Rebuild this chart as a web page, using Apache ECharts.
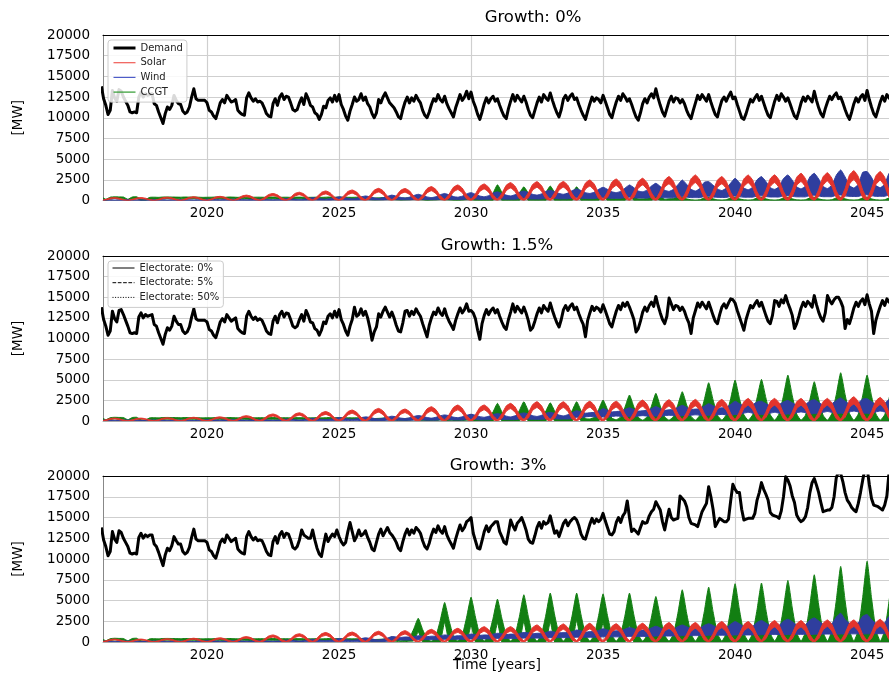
<!DOCTYPE html>
<html>
<head>
<meta charset="utf-8">
<script src="https://cdn.jsdelivr.net/npm/echarts@6/dist/echarts.min.js"></script>
<style>html,body{margin:0;padding:0;background:#fff;}#c{width:889px;height:673px;}</style>
</head>
<body>
<div id="c"></div>
<script>
// ---------------- DATA ----------------
const startYear = 2016;
const xTickYears = [2020, 2025, 2030, 2035, 2040, 2045];
const yTicks = [0, 2500, 5000, 7500, 10000, 12500, 15000, 17500, 20000];
const panelTitles = ['Growth: 0%', 'Growth: 1.5%', 'Growth: 3%'];
const techNames = ['Demand', 'Solar', 'Wind', 'CCGT'];
const electorateNames = ['Electorate: 0%', 'Electorate: 5%', 'Electorate: 50%'];

// Demand, monthly (MW), Jan 2016 .. Jan 2046
const demandG0 = [
13800,12300,11500,10400,10900,13300,12400,12000,13400,13200,12500,12000,
11500,10700,10600,10700,10600,12500,13100,12500,12900,12700,12800,12900,
11700,11500,10700,10000,9300,10500,11300,11000,11500,12700,12100,11700,
11600,10800,10500,10700,11300,12500,13500,12300,12100,12100,12100,12100,
11800,10900,10700,10200,9900,10800,11800,12200,11800,12700,12300,11900,
12000,12200,10900,10600,10400,10300,12400,13000,12400,12000,12300,11900,
12000,11800,11200,10500,10200,10100,11700,12300,11500,12500,12900,12200,
12600,12500,11800,11000,10800,11000,11800,12400,11600,12900,12300,11500,
11300,10600,10400,9800,10400,11400,11200,12100,12400,11900,12700,12000,
12800,11600,11000,10200,9700,10800,11600,12500,12000,12200,12900,12100,
12500,11700,11300,10500,10000,10600,12200,11800,12500,13000,12400,11800,
11500,11200,10700,10100,9900,11000,11900,12500,11800,12400,12000,12700,
12200,11800,10900,10300,10000,10700,11600,12300,12000,12800,12200,11900,
12600,11700,11100,10600,10100,11200,12000,12800,12100,12500,13200,12300,
13100,12000,11300,10400,9800,10700,11700,12400,11800,12300,12600,12000,
12300,11500,10800,10200,9900,11100,12000,12800,12000,12700,12300,11900,
12600,11900,11000,10300,10000,10900,11800,12500,11900,12800,12400,12100,
13000,12100,11300,10600,10100,11000,12300,12700,12100,12600,12900,12200,
12400,11600,10900,10300,9800,10800,11700,12500,12000,12400,12200,11800,
12700,12000,11200,10400,10000,11000,11900,12600,12100,12900,12500,12000,
12300,11600,10800,10100,9700,10600,11700,12300,11800,12500,12900,12400,
13500,12400,11500,10700,10200,11100,12000,12600,11900,12400,12300,11800,
12200,11700,10900,10300,9900,10900,11800,12700,12200,12800,12400,12000,
12800,11900,11100,10400,10100,11200,12100,12500,12000,12600,13100,12300,
12500,11600,10800,10000,9800,10500,11400,12200,11900,12400,12800,12100,
12600,11800,11000,10300,10000,11000,12000,12700,12100,12900,12500,12000,
12400,11700,10900,10200,9900,10800,11800,12500,12000,12600,12300,11900,
13200,12100,11200,10500,10100,11100,11900,12600,12200,12700,13000,12300,
12500,11800,11000,10300,9800,10700,11700,12400,11900,12500,12800,12100,
13300,12200,11300,10500,10100,11000,11900,12600,12000,12800,12400,12100,
12500];

const demandG15 = [
13800,12300,11500,10400,10900,13300,12400,12000,13400,13500,12900,12200,
11500,10700,10600,10700,10600,12600,13100,12500,12900,12700,12800,12900,
11700,11500,10700,10000,9300,10500,11300,11000,11500,12700,12100,11700,
11700,10900,10600,10800,11400,12600,13600,12400,12200,12200,12200,12200,
12000,11100,10900,10400,10100,11000,12000,12400,12000,12900,12500,12100,
12300,12500,11200,10900,10700,10600,12700,13300,12700,12300,12600,12200,
12400,12200,11600,10900,10600,10500,12100,12700,11900,12900,13300,12600,
13100,13000,12300,11500,11300,11500,12300,12900,12100,13400,12800,12000,
11900,11200,11000,10400,11000,12000,11800,12700,13000,12500,13300,12600,
13500,12300,11700,10900,10400,11500,12300,13800,12700,12900,13600,12800,
13300,12500,11300,9800,10800,11400,13000,12600,13300,13800,13200,12600,
13200,12500,11600,10900,10800,11900,13300,13400,12700,13300,12900,13600,
13100,12700,11800,11000,10200,11600,12500,13200,12900,13700,13100,12800,
13600,12700,12100,11600,11100,12200,13000,13700,13100,13500,14200,13300,
13400,13100,12400,11000,9900,11800,12800,13500,12900,13400,13700,13100,
13500,12700,12000,11400,11100,12300,13200,14200,13200,13900,13500,13100,
13800,13100,12200,11000,11300,12100,13000,13700,13100,14000,13600,13300,
14300,13400,12600,11900,11400,12300,13500,14000,13400,13900,14200,13500,
13800,13000,12300,11700,10200,12200,13100,13900,13400,13800,13600,13200,
14100,13400,12600,11800,11400,12400,13300,14000,13500,14300,13900,14400,
13800,13100,12300,10800,11200,12100,13200,13800,13300,14000,14400,13900,
15100,14000,13100,12300,11800,12700,14900,14200,13500,14000,13900,13400,
13800,13300,12500,11900,10600,12500,13400,14300,13800,14400,14000,13600,
14400,13600,12800,12100,11800,12900,13800,14200,13700,14300,14800,14700,
14300,13400,12600,11800,11000,12300,13200,14000,13700,14200,14600,13900,
14400,13600,12800,12100,11800,12800,14600,14500,13900,14700,14300,15200,
14300,13600,12800,11200,11800,12700,13700,14400,13900,14500,14200,13800,
15200,14100,13200,12500,12100,13100,15200,14600,14200,14700,15000,15000,
14500,13800,11200,12300,11800,12700,13700,14400,13900,14500,14800,14100,
15300,14200,13300,10600,12200,13100,13900,14600,14000,14800,14400,15000,
14500];

const demandG3 = [
13800,12300,11500,10400,10900,13300,12400,12000,13400,13200,12500,12000,
11500,10700,10600,10700,10600,12600,13100,12500,12900,12700,12900,12900,
11800,11500,10800,10000,9200,10500,11300,11000,11600,12700,12200,11800,
11800,10900,10600,10800,11400,12600,13600,12400,12200,12200,12200,12200,
12000,11100,10900,10400,10100,11000,12000,12400,12000,12900,12500,12100,
12300,12500,11200,10900,10700,10600,12700,13300,12700,12300,12600,12200,
12300,12200,11600,10900,10500,10400,12100,12700,11900,12900,13300,12600,
13100,13000,12300,11400,11200,11500,12300,13500,12900,12700,12500,12500,
13500,12300,11300,10600,10300,11700,13000,12100,12600,13000,12700,13500,
12700,12100,11700,12000,13300,14400,13300,12200,12700,13500,12800,13000,
13400,12600,12000,11200,11000,12000,13000,13600,12800,13300,13800,13200,
12900,12500,12000,11300,11000,12100,13000,13600,12900,13500,13100,13800,
13500,13100,12200,11500,11200,11900,12900,13600,13200,14000,13400,13100,
13900,12900,12300,11800,11300,12400,13300,14100,13400,13800,14500,14700,
15000,13100,12200,11300,11200,12200,13300,14000,13300,13900,14200,14500,
14500,13300,12700,12000,11800,13200,14700,14000,13500,14300,14600,15000,
14300,13500,12400,12000,11900,12800,13800,14400,13700,14500,14200,14400,
15200,14100,13100,13400,12700,13500,14300,14700,14000,14500,14800,15000,
14700,14000,13000,12500,12400,13300,14200,14900,14300,14800,14500,14800,
15500,14600,13800,13000,12900,13300,14400,15000,14400,15200,15600,17000,
15000,13300,13600,13300,13000,13800,14500,14300,14400,15200,15700,16000,
16900,16400,15900,14500,13500,14800,16000,15000,14700,14800,14900,17600,
17300,17000,16300,15000,14300,14200,14100,13900,14800,15700,16200,16700,
18700,17500,16000,13900,14400,14900,14700,14500,14500,14800,17000,19000,
18400,18000,18000,16000,14700,14800,14900,14900,14900,15500,17100,18000,
19200,18400,17800,17100,15600,15300,15200,15100,14900,15800,17500,19900,
19500,18800,17600,16800,15300,14800,14500,14700,15100,16200,18000,19200,
19700,18900,18000,16800,15700,15800,15900,15900,16200,17500,19800,20500,
20300,19300,18000,17100,16700,16200,15900,15700,16700,18000,19500,20800,
21000,19000,17300,16500,16400,16300,16100,15900,16500,17600,20500,21000,
21000];

// Generation envelopes of the scenario runs, every two months (Jan,Mar,May,Jul,Sep,Nov), Jan 2016 .. Jan 2046
// ---- Growth 0% ----
const solarHiG0 = [
30,140,300,350,280,120, 30,140,300,350,280,120, 30,160,340,400,320,140, 40,180,380,450,360,160,
40,200,430,500,400,180, 50,260,550,650,520,230, 70,340,720,850,680,300, 80,400,850,1000,800,350,
90,460,980,1150,920,400, 100,510,1080,1270,1020,440, 120,590,1250,1470,1180,510, 110,570,1230,1450,1170,500,
130,670,1430,1680,1340,590, 150,750,1600,1880,1500,660, 160,800,1700,2000,1600,700, 170,860,1840,2160,1730,760,
180,910,1940,2280,1820,800, 190,930,1960,2300,1840,810, 200,990,2110,2480,1980,870, 210,1040,2210,2600,2080,910,
220,1080,2290,2690,2150,940, 230,1160,2460,2890,2310,1010, 250,1240,2630,3090,2470,1080, 230,1160,2460,2890,2310,1010,
240,1230,2610,3080,2460,1070, 250,1250,2640,3100,2480,1090, 260,1320,2800,3290,2630,1150, 270,1340,2860,3360,2690,1180,
290,1440,3070,3610,2890,1260, 280,1400,2980,3500,2800,1230,
280];
const solarLoG0 = [
0,50,190,250,170,35, 0,50,190,250,170,35, 0,60,220,280,200,40, 0,70,250,320,220,45,
0,80,280,350,250,50, 0,100,360,460,330,65, 0,130,470,600,430,85, 0,150,550,700,500,100,
0,170,630,800,580,120, 0,190,700,890,640,130, 0,220,810,1030,740,150, 0,210,800,1010,730,145,
0,250,920,1180,840,170, 0,280,1030,1320,940,190, 0,300,1100,1400,1000,200, 0,320,1190,1510,1080,220,
0,340,1250,1600,1140,230, 0,350,1260,1610,1150,235, 0,370,1360,1740,1240,250, 0,390,1430,1820,1300,260,
0,400,1480,1880,1350,270, 0,430,1590,2020,1450,290, 0,460,1700,2160,1550,310, 0,430,1590,2020,1450,290,
0,455,1690,2150,1540,305, 0,465,1710,2170,1560,315, 0,490,1810,2300,1650,330, 0,500,1850,2350,1680,340,
0,540,1990,2530,1810,360, 0,530,1930,2450,1750,350,
0];
const windHiG0 = [
120,100,80,60,80,110, 120,100,80,60,80,110, 120,100,80,60,80,110, 120,100,80,60,80,110,
160,140,110,90,110,150, 160,140,110,90,110,150, 160,140,110,90,110,150, 250,200,150,120,160,230,
350,280,200,160,220,320, 450,380,260,200,280,420, 550,450,320,250,340,500, 650,520,380,300,400,600,
750,600,430,350,450,700, 850,680,480,400,520,800, 950,760,540,450,580,900, 1050,840,650,550,700,1000,
1150,950,750,650,800,1100, 1250,1050,850,750,900,1200, 1400,1200,950,850,1000,1350, 1600,1350,1050,950,1100,1500,
1880,1550,1150,1050,1250,1750, 2080,1700,1250,1100,1350,1900, 2480,1950,1350,1150,1450,2200, 2280,1850,1400,1200,1500,2100,
2690,2150,1500,1300,1600,2500, 2890,2300,1550,1350,1650,2650, 3090,2450,1650,1400,1750,2850, 3290,2600,1700,1450,1850,3050,
3690,2850,1800,1500,1950,3400, 3500,2800,1800,1550,1950,3300,
3400];
const windLoG0 = [
0,0,0,0,0,0, 0,0,0,0,0,0, 0,0,0,0,0,0, 0,0,0,0,0,0,
0,0,0,0,0,0, 0,0,0,0,0,0, 0,0,0,0,0,0, 20,20,10,10,10,20,
50,40,30,30,30,50, 80,60,50,50,50,80, 100,80,60,60,60,100, 120,100,80,80,80,120,
150,120,100,100,100,150, 180,150,120,120,120,180, 200,170,140,140,140,200, 230,190,160,160,160,230,
260,210,180,180,180,260, 290,240,200,200,200,290, 320,270,230,230,230,320, 360,300,260,260,260,360,
400,330,290,290,290,400, 440,370,320,320,320,440, 480,400,350,350,350,480, 500,420,370,370,370,500,
540,450,400,400,400,540, 570,480,420,420,420,570, 600,500,440,440,440,600, 630,530,460,460,460,630,
660,560,480,480,480,660, 690,580,500,500,500,690,
700];
const ccgtHiG0 = [
420,150,400,450,430,420, 150,420,450,150,120,380, 400,380,420,430,420,410, 400,420,410,420,400,380,
390,400,420,410,380,420, 410,380,420,400,390,400, 400,390,410,420,400,390, 400,380,400,410,390,380,
390,400,380,400,420,400, 410,380,390,380,400,390, 400,350,300,320,350,400, 420,330,280,300,330,420,
420,320,250,280,300,400, 450,300,220,250,280,450, 700,500,200,300,350,900, 1900,1000,250,250,300,900,
1650,900,250,250,300,950, 1750,950,250,250,300,900, 1650,900,250,250,300,800, 1350,750,250,250,300,850,
1500,800,200,200,250,550, 900,500,150,200,250,450, 400,200,80,60,100,300, 400,200,80,60,100,300,
400,200,80,60,100,300, 400,200,80,60,100,300, 400,200,80,60,100,300, 400,200,80,60,100,300,
400,200,80,60,100,300, 400,200,80,60,100,300,
400];
const ccgtLoG0 = [
200,0,180,250,230,200, 0,200,250,0,0,180, 180,170,200,220,200,200, 190,200,200,210,190,170,
180,190,210,200,170,210, 200,170,210,190,180,190, 190,180,200,210,190,180, 190,170,190,200,180,170,
180,190,170,190,210,190, 200,170,180,170,190,180, 150,100,50,70,100,150, 150,80,30,50,80,150,
120,60,0,30,50,120, 100,50,0,0,30,100, 100,0,0,0,0,0, 760,0,0,0,0,0,
660,0,0,0,0,0, 700,0,0,0,0,0, 660,0,0,0,0,0, 540,0,0,0,0,0,
600,0,0,0,0,0, 300,0,0,0,0,0, 0,0,0,0,0,0, 0,0,0,0,0,0,
0,0,0,0,0,0, 0,0,0,0,0,0, 0,0,0,0,0,0, 0,0,0,0,0,0,
0,0,0,0,0,0, 0,0,0,0,0,0,
0];

// ---- Growth 1.5% ----
const solarHiG15 = [
30,140,300,350,280,120, 30,140,300,350,280,120, 30,160,340,400,320,140, 40,180,380,450,360,160,
40,200,430,500,400,180, 50,260,550,650,520,230, 70,340,720,850,680,300, 80,400,850,1000,800,350,
90,460,980,1150,920,400, 110,530,1130,1330,1060,470, 120,610,1300,1530,1220,540, 120,580,1230,1450,1160,510,
140,690,1470,1730,1380,610, 150,770,1640,1935,1550,680, 150,780,1650,1940,1540,680, 170,860,1820,2140,1710,750,
190,940,1990,2340,1870,820, 190,930,1980,2330,1870,820, 190,960,2040,2400,1920,840, 190,960,2040,2400,1920,840,
200,1020,2160,2540,2030,890, 210,1030,2190,2580,2060,900, 210,1050,2230,2620,2100,920, 210,1050,2220,2610,2090,910,
220,1100,2330,2740,2190,960, 220,1090,2330,2740,2190,960, 220,1100,2320,2730,2190,960, 220,1100,2330,2740,2190,960,
240,1180,2500,2940,2350,1030, 230,1140,2430,2860,2290,1000,
230];
const solarLoG15 = [
0,50,190,250,170,35, 0,50,190,250,170,35, 0,60,220,280,200,40, 0,70,250,320,220,45,
0,80,280,350,250,50, 0,100,360,460,330,65, 0,130,470,600,430,85, 0,150,550,700,500,100,
0,170,630,800,580,120, 0,200,730,930,660,130, 0,230,840,1070,770,150, 0,220,800,1020,730,145,
0,260,950,1210,870,175, 0,290,1060,1350,970,195, 0,290,1070,1360,970,195, 0,320,1180,1500,1070,215,
0,350,1290,1640,1170,235, 0,350,1280,1630,1170,235, 0,360,1320,1680,1200,240, 0,360,1320,1680,1200,240,
0,380,1400,1780,1270,255, 0,390,1420,1810,1290,260, 0,390,1440,1830,1310,260, 0,390,1440,1830,1300,260,
0,410,1510,1920,1370,275, 0,410,1500,1920,1370,275, 0,410,1500,1910,1370,275, 0,410,1510,1920,1370,275,
0,440,1620,2060,1470,295, 0,430,1570,2000,1430,285,
0];
const windHiG15 = [
120,100,80,60,80,110, 120,100,80,60,80,110, 120,100,80,60,80,110, 120,100,80,60,80,110,
160,140,110,90,110,150, 160,140,110,90,110,150, 160,140,110,90,110,150, 240,200,150,120,160,220,
330,270,200,160,210,300, 420,360,250,200,270,400, 500,430,310,250,330,470, 580,500,360,300,390,550,
660,570,420,350,450,630, 740,640,470,400,510,700, 820,710,530,450,570,780, 900,780,590,500,630,860,
980,850,650,550,690,940, 1060,920,720,620,760,1020, 1250,1100,950,1000,1050,1200, 1500,1300,1100,1150,1200,1400,
1600,1400,1200,1250,1300,1500, 1750,1500,1300,1350,1400,1650, 1900,1650,1400,1450,1500,1800, 2100,1850,1550,1600,1650,2000,
2400,2100,1850,2000,2000,2300, 2400,2100,1850,2000,2000,2300, 2500,2200,1900,2050,2050,2400, 2600,2250,1950,2100,2100,2500,
2800,2400,2050,2200,2200,2650, 2700,2350,2000,2150,2150,2600,
2600];
const windLoG15 = [
0,0,0,0,0,0, 0,0,0,0,0,0, 0,0,0,0,0,0, 0,0,0,0,0,0,
0,0,0,0,0,0, 0,0,0,0,0,0, 0,0,0,0,0,0, 20,20,10,10,10,20,
40,40,30,30,30,40, 70,60,50,50,50,70, 90,80,60,60,60,90, 110,100,80,80,80,110,
140,120,100,100,100,140, 170,150,120,120,120,170, 200,170,140,140,140,200, 230,200,170,170,170,230,
260,230,200,200,200,260, 300,270,240,240,240,300, 450,420,500,550,500,450, 500,460,550,600,550,500,
550,500,600,650,600,550, 600,550,650,700,650,600, 650,600,700,750,700,650, 700,650,750,800,750,700,
800,750,950,1050,950,800, 800,750,950,1050,950,800, 850,800,1000,1100,1000,850, 900,850,1050,1150,1050,900,
950,900,1100,1200,1100,950, 950,900,1100,1200,1100,950,
950];
const ccgtHiG15 = [
420,150,400,450,430,420, 150,420,450,150,120,380, 400,380,420,430,420,410, 400,420,410,420,400,380,
390,400,420,410,380,420, 410,380,420,400,390,400, 400,390,410,420,400,390, 400,380,400,410,390,380,
390,400,380,400,420,400, 410,380,390,380,400,390, 400,350,300,320,350,400, 420,330,280,300,330,420,
420,320,250,280,300,400, 450,300,220,250,280,450, 800,500,200,300,350,1100, 2140,1100,300,250,400,1300,
2340,1250,300,250,400,1200, 2200,1200,300,250,400,1300, 2340,1250,300,250,450,1400, 2540,1400,350,150,500,1700,
3150,1700,450,100,500,1800, 3350,1800,500,100,550,1950, 3550,1950,550,100,700,2550, 4640,2550,700,100,750,2700,
4960,2700,750,100,750,2800, 5040,2800,750,100,850,3050, 5560,3050,850,100,700,2600, 4760,2600,700,100,900,3200,
5850,3200,900,100,850,3050, 5560,3050,850,100,750,2750,
5000];
const ccgtLoG15 = [
200,0,180,250,230,200, 0,200,250,0,0,180, 180,170,200,220,200,200, 190,200,200,210,190,170,
180,190,210,200,170,210, 200,170,210,190,180,190, 190,180,200,210,190,180, 190,170,190,200,180,170,
180,190,170,190,210,190, 200,170,180,170,190,180, 150,100,50,70,100,150, 150,80,30,50,80,150,
120,60,0,30,50,120, 100,50,0,0,30,100, 100,0,0,0,0,0, 850,0,0,0,0,0,
950,0,0,0,0,0, 900,0,0,0,0,0, 950,0,0,0,0,0, 800,0,0,0,0,0,
0,0,0,0,0,0, 0,0,0,0,0,0, 0,0,0,0,0,0, 0,0,0,0,0,0,
0,0,0,0,0,0, 0,0,0,0,0,0, 0,0,0,0,0,0, 0,0,0,0,0,0,
0,0,0,0,0,0, 0,0,0,0,0,0,
0];

// ---- Growth 3% ----
const solarHiG3 = [
30,140,300,350,280,120, 30,140,300,350,280,120, 30,160,340,400,320,140, 40,180,380,450,360,160,
40,200,430,500,400,180, 50,260,550,650,520,230, 70,340,720,850,680,300, 80,400,850,1000,800,350,
90,460,980,1150,920,400, 100,480,1020,1200,960,420, 100,520,1100,1300,1040,450, 110,550,1160,1370,1100,480,
120,610,1300,1530,1220,540, 130,660,1400,1650,1320,580, 150,740,1570,1850,1480,650, 150,740,1570,1850,1480,650,
160,820,1750,2060,1650,720, 170,870,1850,2180,1740,760, 180,900,1920,2260,1810,790, 180,880,1870,2200,1760,770,
180,900,1920,2260,1810,790, 190,940,1990,2340,1870,820, 190,940,1990,2340,1870,820, 200,980,2090,2460,1970,860,
200,980,2090,2460,1970,860, 210,1030,2190,2580,2060,900, 210,1030,2190,2580,2060,900, 210,1060,2260,2660,2130,930,
210,1060,2260,2660,2130,930, 220,1100,2330,2740,2190,960,
220];
const solarLoG3 = [
0,50,190,250,170,35, 0,50,190,250,170,35, 0,60,220,280,200,40, 0,70,250,320,220,45,
0,80,280,350,250,50, 0,100,360,460,330,65, 0,130,470,600,430,85, 0,150,550,700,500,100,
0,170,630,800,580,120, 0,180,660,840,600,120, 0,200,720,910,650,130, 0,210,750,960,690,140,
0,230,840,1070,770,150, 0,250,910,1160,830,165, 0,280,1020,1300,930,185, 0,280,1020,1300,930,185,
0,310,1130,1440,1030,205, 0,330,1200,1530,1090,220, 0,340,1240,1580,1130,225, 0,330,1210,1540,1100,220,
0,340,1240,1580,1130,225, 0,350,1290,1640,1170,235, 0,350,1290,1640,1170,235, 0,370,1350,1720,1230,245,
0,370,1350,1720,1230,245, 0,390,1420,1810,1290,260, 0,390,1420,1810,1290,260, 0,400,1460,1860,1330,265,
0,400,1460,1860,1330,265, 0,410,1510,1920,1370,275,
0];
const windHiG3 = [
120,100,80,60,80,110, 120,100,80,60,80,110, 120,100,80,60,80,110, 120,100,80,60,80,110,
160,140,110,90,110,150, 160,140,110,90,110,150, 160,140,110,90,110,150, 240,200,150,120,160,220,
330,270,200,160,210,300, 420,360,250,200,270,400, 500,430,310,250,330,470, 650,600,550,600,600,650,
750,700,650,700,700,750, 850,800,700,750,750,850, 950,900,800,850,850,950, 1050,1000,900,950,950,1050,
1150,1100,1000,1050,1050,1150, 1300,1200,1100,1150,1150,1250, 1450,1350,1200,1250,1250,1400, 1600,1450,1300,1350,1350,1550,
1750,1600,1400,1450,1450,1700, 1900,1700,1500,1550,1550,1850, 2050,1850,1600,1650,1650,2000, 2200,2000,1700,1750,1750,2150,
2460,2200,1850,1900,1900,2350, 2600,2300,1950,2000,2000,2500, 2750,2450,2050,2100,2100,2650, 2900,2550,2150,2200,2200,3000,
3470,2700,2250,2300,2300,3100, 3300,2700,2250,2300,2300,3100,
3000];
const windLoG3 = [
0,0,0,0,0,0, 0,0,0,0,0,0, 0,0,0,0,0,0, 0,0,0,0,0,0,
0,0,0,0,0,0, 0,0,0,0,0,0, 0,0,0,0,0,0, 20,20,10,10,10,20,
40,40,30,30,30,40, 70,60,50,50,50,70, 90,80,60,60,60,90, 240,240,240,240,240,240,
280,280,280,280,280,280, 320,320,320,320,320,320, 370,370,370,370,370,370, 420,420,420,420,420,420,
470,470,470,470,470,470, 520,520,520,520,520,520, 570,570,570,570,570,570, 620,620,620,620,620,620,
670,670,670,670,670,670, 720,720,720,720,720,720, 770,770,770,770,770,770, 820,820,820,820,820,820,
850,850,850,850,850,850, 880,880,900,900,900,880, 900,900,920,920,920,900, 930,930,950,950,950,930,
960,960,980,980,980,960, 980,980,1000,1000,1000,980,
980];
const ccgtHiG3 = [
420,150,400,450,430,420, 150,420,450,150,120,380, 400,380,420,430,420,410, 400,420,410,420,400,380,
390,400,420,410,380,420, 410,380,420,400,390,400, 400,390,410,420,400,390, 400,380,400,410,390,380,
390,400,380,400,420,400, 410,380,390,380,400,390, 400,350,300,320,350,400, 600,400,150,300,500,1600,
2860,1500,400,100,700,2600, 4760,2600,700,100,800,3000, 5400,3000,800,100,800,2850, 5160,2850,800,100,850,3100,
5690,3100,850,100,900,3250, 5890,3250,900,100,900,3250, 5890,3250,900,100,850,3200, 5800,3200,850,100,900,3250,
5890,3250,900,100,800,3000, 5480,3000,800,100,950,3450, 6290,3450,950,100,1000,3650, 6610,3650,1000,100,1050,3850,
7020,3850,1050,100,1050,3900, 7100,3900,1050,100,1100,4100, 7420,4100,1100,100,1200,4450, 8100,4450,1200,100,1350,5000,
9110,5000,1350,100,1450,5350, 9720,5350,1450,100,1350,4950,
9000];
const ccgtLoG3 = [
200,0,180,250,230,200, 0,200,250,0,0,180, 180,170,200,220,200,200, 190,200,200,210,190,170,
180,190,210,200,170,210, 200,170,210,190,180,190, 190,180,200,210,190,180, 190,170,190,200,180,170,
180,190,170,190,210,190, 200,170,180,170,190,180, 150,100,50,70,100,150, 150,80,30,50,80,150,
1200,0,0,0,0,0, 2400,0,0,0,0,0, 2000,0,0,0,0,0, 2300,0,0,0,0,0,
2500,0,0,0,0,0, 2400,0,0,0,0,0, 2600,0,0,0,0,0, 2300,0,0,0,0,0,
2000,0,0,0,0,0, 0,0,0,0,0,0, 0,0,0,0,0,0, 0,0,0,0,0,0,
0,0,0,0,0,0, 0,0,0,0,0,0, 0,0,0,0,0,0, 0,0,0,0,0,0,
0,0,0,0,0,0, 0,0,0,0,0,0,
0];

// ---------------- CHART ----------------
const FONT = 'DejaVu Sans';
const COL = { solar: '#e3342c', wind: '#2f3e9e', ccgt: '#127f12' };
const LEG = { solar: '#f05a54', wind: '#4d5cc8', ccgt: '#2f9a2f' };

const monthTimes = demandG0.map((_, i) => startYear + i / 12);
const bandTimes = solarHiG0.map((_, i) => startYear + i / 6);

const panels = [
  { demand: demandG0, solar: [solarLoG0, solarHiG0], wind: [windLoG0, windHiG0], ccgt: [ccgtLoG0, ccgtHiG0] },
  { demand: demandG15, solar: [solarLoG15, solarHiG15], wind: [windLoG15, windHiG15], ccgt: [ccgtLoG15, ccgtHiG15] },
  { demand: demandG3, solar: [solarLoG3, solarHiG3], wind: [windLoG3, windHiG3], ccgt: [ccgtLoG3, ccgtHiG3] }
];

const gridTops = [35, 256, 476];
const gridHeights = [165.5, 165, 166];
const XMIN = 2016.06, XMAX = 2045.83;

function bandSeries(name, idx, lo, hi, color, z) {
  const data = bandTimes.map((t, i) => [t, lo[i], hi[i]]);
  return {
    type: 'custom', name: name, xAxisIndex: idx, yAxisIndex: idx, z: z, silent: true, clip: true,
    encode: { x: 0, y: [1, 2] },
    data: data,
    renderItem: function (params, api) {
      if (params.dataIndex !== 0) return null;
      const top = [], bot = [];
      for (let i = 0; i < data.length; i++) {
        top.push(api.coord([data[i][0], data[i][2]]));
        bot.push(api.coord([data[i][0], data[i][1]]));
      }
      const pts = top.concat(bot.reverse());
      return { type: 'polygon', shape: { points: pts, smooth: 0.15 },
               style: { fill: color, stroke: color, lineWidth: 1 } };
    }
  };
}

const grids = [], xAxes = [], yAxes = [], series = [], graphics = [];
for (let p = 0; p < 3; p++) {
  grids.push({ left: 103, right: 0, top: gridTops[p], height: gridHeights[p], containLabel: false });
  xAxes.push({
    type: 'value', gridIndex: p, min: XMIN, max: XMAX,
    axisLine: { show: true, lineStyle: { color: '#aaaaaa', width: 1 } },
    axisTick: { show: false, customValues: xTickYears },
    axisLabel: { customValues: xTickYears, fontFamily: FONT, fontSize: 13.5, color: '#000', margin: 6,
                 formatter: v => String(Math.round(v)) },
    splitLine: { show: true, lineStyle: { color: '#cfcfcf', width: 1.2 } }
  });
  yAxes.push({
    type: 'value', gridIndex: p, min: 0, max: 20000, interval: 2500,
    axisLine: { show: true, lineStyle: { color: '#888888', width: 1 } },
    axisTick: { show: false },
    axisLabel: { fontFamily: FONT, fontSize: 13.5, color: '#000', margin: 13, formatter: v => String(v) },
    splitLine: { show: true, lineStyle: { color: '#cfcfcf', width: 1.2 } }
  });
  const d = panels[p];
  series.push(bandSeries('ccgt-band-' + p, p, d.ccgt[0], d.ccgt[1], COL.ccgt, 2));
  series.push(bandSeries('wind-band-' + p, p, d.wind[0], d.wind[1], COL.wind, 3));
  series.push(bandSeries('solar-band-' + p, p, d.solar[0], d.solar[1], COL.solar, 4));
  series.push({
    type: 'line', name: p === 0 ? 'Demand' : 'Demand ' + p, xAxisIndex: p, yAxisIndex: p, z: 10,
    data: monthTimes.map((t, i) => [t, d.demand[i]]),
    showSymbol: false, symbol: 'none', silent: true, clip: true,
    lineStyle: { color: '#000', width: 3, join: 'round' }, itemStyle: { color: '#000' }
  });
}
// top spines
for (let p = 0; p < 3; p++) {
  xAxes.push({
    type: 'value', gridIndex: p, min: XMIN, max: XMAX, position: 'top',
    axisLine: { show: true, lineStyle: { color: '#000', width: 1 } },
    axisTick: { show: false }, axisLabel: { show: false }, splitLine: { show: false }
  });
}
// legend-only series
const legSeries = [
  { name: 'Solar', color: LEG.solar, type: 'solid', width: 1 },
  { name: 'Wind', color: LEG.wind, type: 'solid', width: 1 },
  { name: 'CCGT', color: LEG.ccgt, type: 'solid', width: 1 },
  { name: electorateNames[0], color: '#000', type: 'solid', width: 1 },
  { name: electorateNames[1], color: '#000', type: [3.7, 1.6], width: 1 },
  { name: electorateNames[2], color: '#000', type: [1, 1.6], width: 1 }
];
legSeries.forEach(s => series.push({
  type: 'line', name: s.name, data: [], xAxisIndex: 0, yAxisIndex: 0, symbol: 'none', showSymbol: false,
  lineStyle: { color: s.color, width: s.width, type: s.type }, itemStyle: { color: s.color }
}));

const legendCommon = {
  orient: 'vertical', itemWidth: 22, itemHeight: 10, itemGap: 4.7, z: 30, zlevel: 0,
  backgroundColor: 'rgba(255,255,255,0.85)', borderColor: '#cccccc', borderWidth: 1, borderRadius: 3,
  textStyle: { fontFamily: FONT, fontSize: 10, color: '#222' }, selectedMode: false,
  itemStyle: { opacity: 0, borderWidth: 0 }
};
const legends = [
  Object.assign({}, legendCommon, { left: 108, top: 40, padding: [3, 4, 5, 4], data: [
    { name: 'Demand', lineStyle: { width: 3, color: '#000' } },
    { name: 'Solar', lineStyle: { width: 1.2, color: LEG.solar } },
    { name: 'Wind', lineStyle: { width: 1.2, color: LEG.wind } },
    { name: 'CCGT', lineStyle: { width: 1.2, color: LEG.ccgt } }
  ] }),
  Object.assign({}, legendCommon, { left: 108, top: 261, padding: [2, 4, 5, 4], data: [
    { name: electorateNames[0], lineStyle: { width: 1, color: '#000', type: 'solid' } },
    { name: electorateNames[1], lineStyle: { width: 1, color: '#000', type: [3.7, 1.6] } },
    { name: electorateNames[2], lineStyle: { width: 1, color: '#000', type: [1, 1.6] } }
  ] })
];

// titles and axis names
const titlePos = [[533, 18], [497, 246], [498, 466]];
for (let p = 0; p < 3; p++) {
  graphics.push({ type: 'text', x: titlePos[p][0], y: titlePos[p][1], silent: true,
    style: { text: panelTitles[p], font: '16.5px "DejaVu Sans"', fill: '#000', align: 'center', verticalAlign: 'middle' } });
  graphics.push({ type: 'text', x: 18, y: gridTops[p] + gridHeights[p] / 2, rotation: Math.PI / 2, silent: true,
    style: { text: '[MW]', font: '13.5px "DejaVu Sans"', fill: '#000', align: 'center', verticalAlign: 'middle' } });
}
graphics.push({ type: 'text', x: 497, y: 665, silent: true,
  style: { text: 'Time [years]', font: '14px "DejaVu Sans"', fill: '#000', align: 'center', verticalAlign: 'middle' } });

const chart = echarts.init(document.getElementById('c'), null, { renderer: 'canvas' });
chart.setOption({
  animation: false,
  backgroundColor: '#fff',
  grid: grids, xAxis: xAxes, yAxis: yAxes, series: series, legend: legends, graphic: graphics
});
</script>
</body>
</html>
